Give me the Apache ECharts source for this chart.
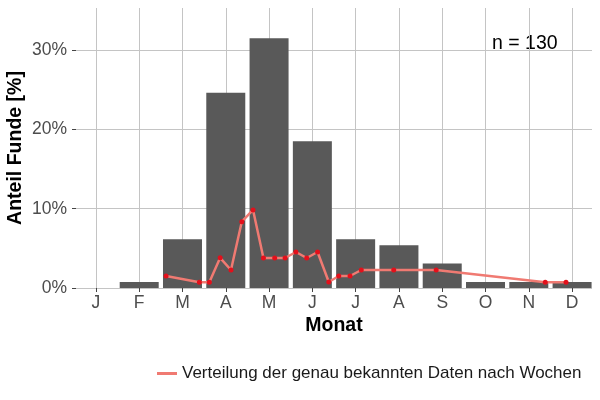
<!DOCTYPE html>
<html>
<head>
<meta charset="utf-8">
<script src="https://cdn.jsdelivr.net/npm/echarts@6/dist/echarts.min.js"></script>
<style>
  html, body { margin: 0; padding: 0; background: #ffffff; }
  #chart { width: 600px; height: 400px; }
</style>
</head>
<body>
<div id="chart"></div>
<script>
// Monate (Position 1..12 auf der x-Achse)
var monthLabels = ['J', 'F', 'M', 'A', 'M', 'J', 'J', 'A', 'S', 'O', 'N', 'D'];
var monthPos = [1, 2, 3, 4, 5, 6, 7, 8, 9, 10, 11, 12];
// Anteil Funde pro Monat [%]
var monthShare = [0, 0.77, 6.15, 24.6, 31.5, 18.5, 6.15, 5.38, 3.08, 0.77, 0.77, 0.77];

// Wochenverteilung (Position in Monaten, Anteil in %)
var weekPos = [2.62, 3.39, 3.62, 3.87, 4.12, 4.37, 4.63, 4.87, 5.13, 5.37, 5.62,
  5.87, 6.12, 6.38, 6.61, 6.87, 7.13, 7.88, 8.86, 11.38, 11.86];
var weekShare = [1.51, 0.72, 0.72, 3.8, 2.27, 8.36, 9.84, 3.78, 3.78, 3.78, 4.54,
  3.78, 4.54, 0.76, 1.51, 1.51, 2.27, 2.27, 2.27, 0.72, 0.72];

var yTicks = [0, 10, 20, 30];
var sampleN = 'n = 130';
var lineName = 'Verteilung der genau bekannten Daten nach Wochen';

var font = 'Liberation Sans, Arial, sans-serif';

var chart = echarts.init(document.getElementById('chart'));

var option = {
  backgroundColor: '#ffffff',
  animation: false,
  textStyle: { fontFamily: font },
  grid: { left: 76, right: 8, top: 8, bottom: 112, containLabel: false, outerBoundsMode: 'none' },
  legend: {
    bottom: 13,
    left: 152,
    itemWidth: 20,
    itemHeight: 3,
    itemGap: 10,
    textStyle: { fontSize: 17, color: '#1a1a1a', fontFamily: font },
    data: [{ name: lineName, icon: 'rect', itemStyle: { color: '#F07A72' } }]
  },
  xAxis: {
    type: 'value',
    min: 0.54,
    max: 12.46,
    name: 'Monat',
    nameLocation: 'middle',
    nameGap: 28,
    nameMoveOverlap: false,
    nameTextStyle: { fontSize: 19.5, fontWeight: 'bold', color: '#000', fontFamily: font },
    axisLine: { show: false },
    axisTick: {
      show: true, length: 4, customValues: monthPos,
      lineStyle: { color: '#444', width: 1 }
    },
    axisLabel: {
      customValues: monthPos,
      fontSize: 17.5, color: '#4d4d4d', margin: 6,
      formatter: function (v) { return monthLabels[Math.round(v) - 1]; }
    },
    splitLine: { show: true, lineStyle: { color: '#c4c4c4', width: 1 } }
  },
  yAxis: {
    type: 'value',
    min: 0,
    max: 35.3,
    name: 'Anteil Funde [%]',
    nameLocation: 'middle',
    nameGap: 50,
    nameMoveOverlap: false,
    nameTextStyle: { fontSize: 19.5, fontWeight: 'bold', color: '#000', fontFamily: font },
    axisLine: { show: false },
    axisTick: {
      show: true, length: 4, customValues: yTicks,
      lineStyle: { color: '#444', width: 1 }
    },
    axisLabel: {
      customValues: yTicks,
      fontSize: 17.5, color: '#4d4d4d', margin: 9,
      formatter: function (v) { return v + '%'; }
    },
    splitLine: { show: true, lineStyle: { color: '#c4c4c4', width: 1 } }
  },
  graphic: [{
    type: 'text',
    x: 492,
    y: 44,
    style: { text: sampleN, fontSize: 19.5, fill: '#000', fontFamily: font, verticalAlign: 'middle' }
  }],
  series: [
    {
      name: 'Monat',
      type: 'bar',
      barWidth: 39,
      itemStyle: { color: '#595959' },
      data: monthPos.map(function (m, i) { return [m, monthShare[i]]; }),
      z: 2
    },
    {
      name: lineName,
      type: 'line',
      data: weekPos.map(function (w, i) { return [w, weekShare[i]]; }),
      symbol: 'circle',
      symbolSize: 5,
      lineStyle: { color: '#F07A72', width: 2.5 },
      itemStyle: { color: '#E3101B' },
      z: 3
    }
  ]
};

chart.setOption(option);
</script>
</body>
</html>
